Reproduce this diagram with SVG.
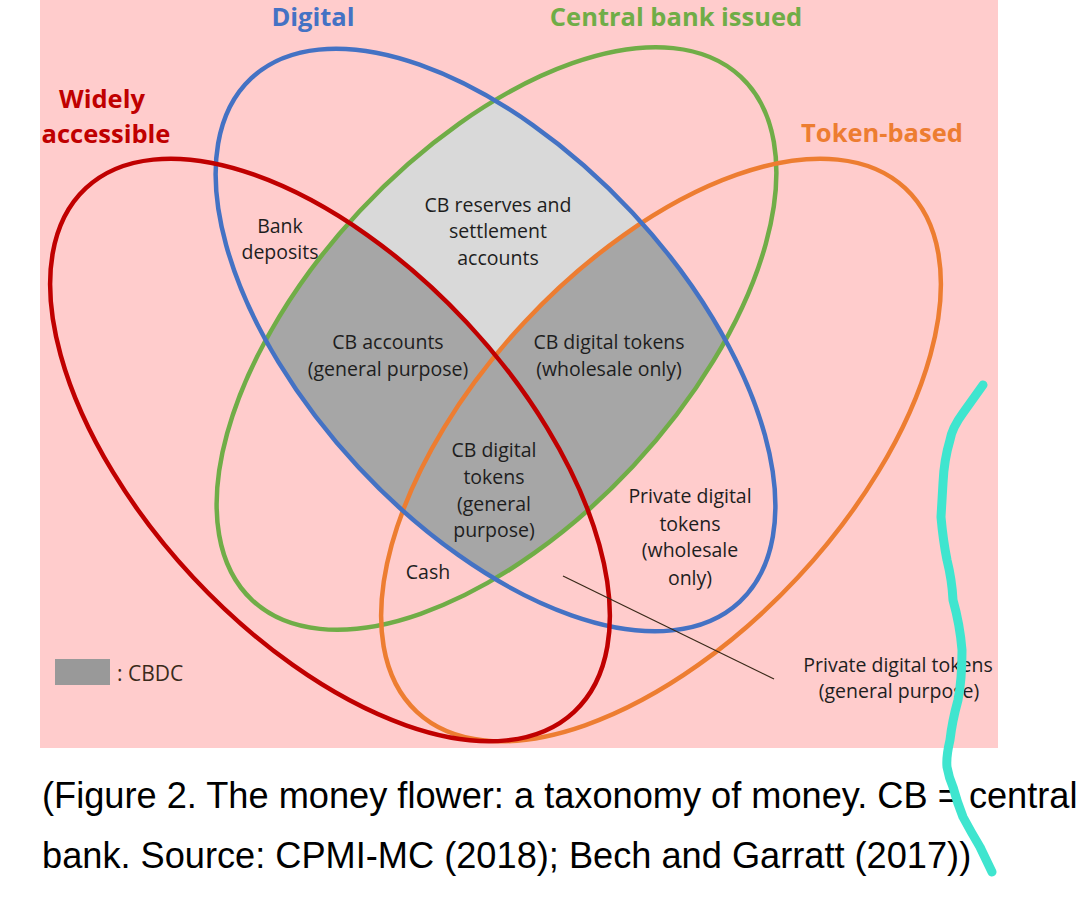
<svg xmlns="http://www.w3.org/2000/svg" width="1080" height="910" viewBox="0 0 1080 910">
<style>
.ring{fill:none;stroke-width:4.5}
.title{font-family:"Open Sans","Liberation Sans",sans-serif;font-weight:bold;font-size:25.5px;text-anchor:middle}
.lbl{font-family:"Open Sans","Liberation Sans",sans-serif;font-size:19.5px;fill:#1e1e1e;text-anchor:middle}
.cap{font-family:"Liberation Sans",Arial,sans-serif;font-size:36.2px;fill:#000}
</style>
<defs>
<clipPath id="clip-blue"><ellipse cx="495.5" cy="340" rx="358" ry="187" transform="rotate(47 495.5 340)"/></clipPath>
<clipPath id="clip-green"><ellipse cx="496.5" cy="338.5" rx="358" ry="187" transform="rotate(-47 496.5 338.5)"/></clipPath>
</defs>
<rect id="background" x="40" y="0" width="958" height="748" fill="#FFCCCC"/>
<g id="cb-regions" clip-path="url(#clip-blue)">
<g clip-path="url(#clip-green)">
<rect x="0" y="0" width="1080" height="910" fill="#D9D9D9"/>
<ellipse cx="330" cy="450" rx="358" ry="187" transform="rotate(47 330 450)" fill="#A6A6A6"/>
<ellipse cx="661" cy="450" rx="358" ry="187" transform="rotate(-47 661 450)" fill="#A6A6A6"/>
</g>
</g>
<g id="set-central-bank">
<ellipse class="ring" cx="496.5" cy="338.5" rx="358" ry="187" transform="rotate(-47 496.5 338.5)" stroke="#70AD47"/>
<text class="title" x="676" y="26" fill="#70AD47">Central bank issued</text>
</g>
<g id="set-token">
<ellipse class="ring" cx="661" cy="450" rx="358" ry="187" transform="rotate(-47 661 450)" stroke="#ED7D31"/>
<text class="title" x="882" y="142" fill="#ED7D31">Token-based</text>
</g>
<g id="set-digital">
<ellipse class="ring" cx="495.5" cy="340" rx="358" ry="187" transform="rotate(47 495.5 340)" stroke="#4472C4"/>
<text class="title" x="313" y="26" fill="#4472C4">Digital</text>
</g>
<g id="set-widely">
<ellipse class="ring" cx="330" cy="450" rx="358" ry="187" transform="rotate(47 330 450)" stroke="#C00000"/>
<text class="title" x="102" y="108" fill="#C00000">Widely</text>
<text class="title" x="106" y="143" fill="#C00000">accessible</text>
</g>
<g id="region-bank-deposits"><text class="lbl" x="280" y="233">Bank</text><text class="lbl" x="280" y="259">deposits</text></g>
<g id="region-cb-reserves"><text class="lbl" x="498" y="212">CB reserves and</text><text class="lbl" x="498" y="238">settlement</text><text class="lbl" x="498" y="265">accounts</text></g>
<g id="region-cb-accounts"><text class="lbl" x="388" y="349">CB accounts</text><text class="lbl" x="388" y="376">(general purpose)</text></g>
<g id="region-cb-tokens-wholesale"><text class="lbl" x="609" y="349">CB digital tokens</text><text class="lbl" x="609" y="376">(wholesale only)</text></g>
<g id="region-cb-tokens-general"><text class="lbl" x="494" y="457">CB digital</text><text class="lbl" x="494" y="484">tokens</text><text class="lbl" x="494" y="511">(general</text><text class="lbl" x="494" y="537">purpose)</text></g>
<g id="region-cash"><text class="lbl" x="428" y="579">Cash</text></g>
<g id="region-private-wholesale"><text class="lbl" x="690" y="503">Private digital</text><text class="lbl" x="690" y="531">tokens</text><text class="lbl" x="690" y="557">(wholesale</text><text class="lbl" x="690" y="585">only)</text></g>
<g id="region-private-general"><text class="lbl" x="898" y="672">Private digital tokens</text><text class="lbl" x="899" y="698">(general purpose)</text></g>
<g id="connectors"><line x1="563" y1="576" x2="774" y2="679" stroke="#3a2a1a" stroke-width="1.3"/></g>
<g id="legend"><rect x="55" y="659" width="55" height="26" fill="#999999"/><text x="117" y="681" font-family="'Open Sans','Liberation Sans',sans-serif" font-size="21" fill="#3a2a1a">: CBDC</text></g>
<g id="caption">
<text class="cap" x="42" y="808">(Figure 2. The money flower: a taxonomy of money. CB = central</text>
<text class="cap" x="42" y="868">bank. Source: CPMI-MC (2018); Bech and Garratt (2017))</text>
</g>
<path id="annotation" d="M983,385 L963,413 Q952,428 950,440 Q944,460 943,483 L941,517 Q943,540 947,560 Q952,580 953,600 Q960,625 962,650 Q962,680 958,700 Q952,722 950,740 Q946,757 947,767 Q949,778 953,787 Q957,802 963,817 Q971,832 980,847 L992,872" fill="none" stroke="#3FE5CF" stroke-width="9" stroke-linecap="round" stroke-linejoin="round"/>
</svg>
